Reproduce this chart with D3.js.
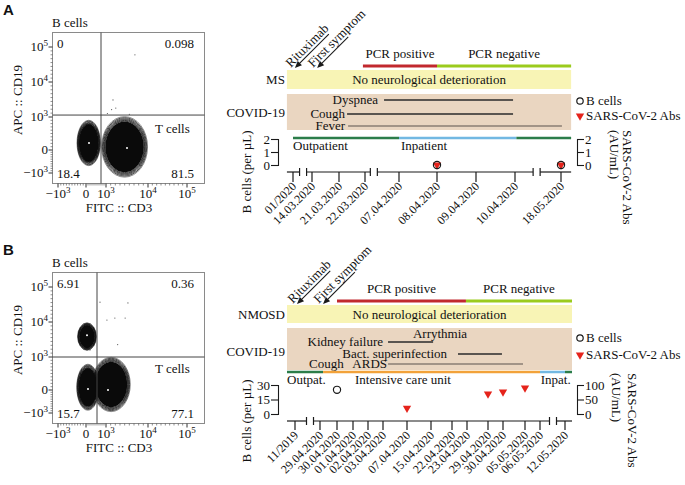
<!DOCTYPE html>
<html>
<head>
<meta charset="utf-8">
<script src="https://cdn.jsdelivr.net/npm/d3@7/dist/d3.min.js"></script>
<style>
html,body{margin:0;padding:0;background:#fff;}
svg{display:block;}
text{font-family:"Liberation Serif","Times New Roman",serif;fill:#111;font-size:13px;}
</style>
</head>
<body>
<svg id="chart" width="685" height="485"></svg>
<script>
// ================= DATA =================
// Flow cytometry (FITC :: CD3 vs APC :: CD19)
const flowTicks = [-1000, 0, 1000, 10000, 100000];
const flowTickBase = ["\u221210", "0", "10", "10", "10"];
const flowTickExp = ["3", "", "3", "4", "5"];
const quadrantA = ["0", "0.098", "18.4", "81.5"];
const quadrantB = ["6.91", "0.36", "15.7", "77.1"];
const gateA = [750, 1500];
const gateB = [550, 1000];
// populations: [cd3Low, cd3High, cd19Low, cd19High, cd3Peak, cd19Peak]
const populationsA = [
  [-320, 720, -680, 900, 150, 212],
  [780, 9900, -1180, 1100, 5500, 61]
];
const populationsB = [
  [-300, 520, 2700, 9800, 50, 6600],
  [-330, 650, -880, 780, 100, 30],
  [300, 6200, -940, 990, 1430, 0]
];
const eventsA = [[7200, 80000], [2500, 5400], [3100, 3300], [2200, 2900], [1300, 1900], [6000, 1700]];
const eventsB = [[700, 61000], [2900, 20000], [5100, 20000], [5700, 59000], [1200, 15000], [200, 2800], [3500, 4200]];

// Timeline A (MS)
const datesA = ["01/2020", "14.03.2020", "21.03.2020", "22.03.2020", "07.04.2020", "08.04.2020", "09.04.2020", "10.04.2020", "18.05.2020"];
const bCellsA = [[5, 0], [8, 0]];          // [date index, cells per µL]
const antibodiesA = [[5, 0], [8, 0]];      // [date index, AU/mL]
const pcrA = [["PCR positive", 2.92, 5], ["PCR negative", 5, 8.22]];
const careA = [["Outpatient", "out", 0, 4], ["Inpatient", "in", 4, 7.03], ["", "out", 7.03, 8.22]];
const symptomsA = [["Dyspnea", 3.56, 6.95], ["Cough", 2.31, 6.95], ["Fever", 2.35, 8.02]];
const eventsTimelineA = [["Rituximab", 0.1], ["First symptom", 1.19]];

// Timeline B (NMOSD)
const datesB = ["11/2019", "29.04.2020", "30.04.2020", "01.04.2020", "02.04.2020", "03.04.2020", "07.04.2020", "15.04.2020", "22.04.2020", "23.04.2020", "29.04.2020", "30.04.2020", "05.05.2020", "06.05.2020", "12.05.2020"];
const bCellsB = [[2, 25]];
const antibodiesB = [[6, 20], [10, 69], [11, 76], [12, 90]];
const pcrB = [["PCR positive", 2, 8.93], ["PCR negative", 8.93, 14.28]];
const careB = [["Outpat.", "out", -0.32, 1.18], ["Intensive care unit", "icu", 1.18, 13], ["Inpat.", "in", 13, 14], ["", "out", 14, 14.28]];
const symptomsB = [["Kidney failure", 5.21, 7.1], ["Bact. superinfection", 8.4, 10.93], ["ARDS", 5.21, 11.91]];
const eventsTimelineB = [["Rituximab", 0.08], ["First symptom", 1.18]];

// ================= STYLE =================
const careColor = {out: "#2b7d4a", in: "#72b8e2", icu: "#f2a23a"};
const pcrColor = ["#c1282e", "#9bcb1d"];
const svg = d3.select("#chart");

// ================= FLOW PANELS =================
function flowPanel(dy, letter, quad, gate, pops, events) {
  const g = svg.append("g").attr("transform", `translate(0,${dy})`);
  const x = d3.scaleLinear().domain(flowTicks).range([58, 86, 106, 148, 187]);
  const y = d3.scaleLinear().domain(flowTicks).range([173, 150, 117, 82, 47]);
  const L = 52.5, R = 204.5, T = 32.5, B = 183.5;

  g.append("text").attr("x", 3).attr("y", 15).text(letter)
    .style("font-family", "'Liberation Sans',Arial,sans-serif").style("font-weight", "bold").style("font-size", "15px");
  g.append("text").attr("x", 52).attr("y", 27).text("B cells");

  // populations (contour look)
  const ell = pops.map(p => {
    const x0 = x(p[0]), x1 = x(p[1]), y0 = y(p[3]), y1 = y(p[2]);
    return {cx: (x0 + x1) / 2, cy: (y0 + y1) / 2, rx: (x1 - x0) / 2, ry: (y1 - y0) / 2, px: x(p[4]), py: y(p[5])};
  });
  const rings = [1, 0.965, 0.93, 0.9, 0.875, 0.85];
  ell.forEach(e => rings.forEach((k, j) => {
    g.append("ellipse").attr("cx", e.cx).attr("cy", e.cy).attr("rx", e.rx * k).attr("ry", e.ry * k)
      .attr("fill", "none").attr("stroke", j === 0 ? "#666" : "#111").attr("stroke-width", 0.75);
  }));
  ell.forEach(e => {
    g.append("ellipse").attr("cx", e.cx).attr("cy", e.cy).attr("rx", e.rx * 0.84).attr("ry", e.ry * 0.84).attr("fill", "#0a0a0a");
  });
  ell.forEach(e => {
    g.append("circle").attr("cx", e.px).attr("cy", e.py).attr("r", 1).attr("fill", "#fff");
  });
  g.selectAll(".ev").data(events).join("circle")
    .attr("cx", d => x(d[0])).attr("cy", d => y(d[1])).attr("r", 0.6).attr("fill", "#555");

  // frame
  g.append("rect").attr("x", L).attr("y", T).attr("width", R - L).attr("height", B - T)
    .attr("fill", "none").attr("stroke", "#8a8a8a").attr("stroke-width", 1);
  // gates
  g.append("line").attr("x1", x(gate[0])).attr("x2", x(gate[0])).attr("y1", T).attr("y2", B).attr("stroke", "#444");
  g.append("line").attr("x1", L).attr("x2", R).attr("y1", y(gate[1])).attr("y2", y(gate[1])).attr("stroke", "#444");

  // ticks
  const minor = [];
  for (let k = 1; k < 10; k++) { minor.push(-k * 100, k * 100); }
  for (let k = 2; k < 10; k++) { minor.push(k * 1000, k * 10000); }
  minor.forEach(v => {
    g.append("line").attr("x1", x(v)).attr("x2", x(v)).attr("y1", B).attr("y2", B + 2).attr("stroke", "#444").attr("stroke-width", 0.6);
    g.append("line").attr("x1", L - 2).attr("x2", L).attr("y1", y(v)).attr("y2", y(v)).attr("stroke", "#444").attr("stroke-width", 0.6);
  });
  flowTicks.forEach((v, i) => {
    g.append("line").attr("x1", x(v)).attr("x2", x(v)).attr("y1", B).attr("y2", B + 4).attr("stroke", "#333");
    g.append("line").attr("x1", L - 4).attr("x2", L).attr("y1", y(v)).attr("y2", y(v)).attr("stroke", "#333");
    const tx = g.append("text").attr("x", x(v)).attr("y", 198).attr("text-anchor", "middle").style("font-size", "13px");
    tx.append("tspan").text(flowTickBase[i]);
    if (flowTickExp[i]) tx.append("tspan").attr("dy", -5).style("font-size", "9px").text(flowTickExp[i]);
    const ty = g.append("text").attr("x", 48).attr("y", y(v) + 4).attr("text-anchor", "end").style("font-size", "13px");
    ty.append("tspan").text(flowTickBase[i]);
    if (flowTickExp[i]) ty.append("tspan").attr("dy", -5).style("font-size", "9px").text(flowTickExp[i]);
  });
  g.append("text").attr("x", 119).attr("y", 212).attr("text-anchor", "middle").text("FITC :: CD3");
  g.append("text").attr("transform", "translate(22,100) rotate(-90)").attr("text-anchor", "middle").text("APC :: CD19");

  // quadrant labels
  g.append("text").attr("x", 57).attr("y", 48).text(quad[0]);
  g.append("text").attr("x", 194).attr("y", 48).attr("text-anchor", "end").text(quad[1]);
  g.append("text").attr("x", 57).attr("y", 178).text(quad[2]);
  g.append("text").attr("x", 194).attr("y", 178).attr("text-anchor", "end").text(quad[3]);
  g.append("text").attr("x", 155).attr("y", 133).text("T cells");
}

flowPanel(0, "A", quadrantA, gateA, populationsA, eventsA);
flowPanel(240, "B", quadrantB, gateB, populationsB, eventsB);

// ================= TIMELINES =================
function timeline(c) {
  const g = svg.append("g");
  const pos = [c.x0];
  c.gaps.forEach(d => pos.push(pos[pos.length - 1] + d));
  const x = d3.scaleLinear().domain(d3.range(c.dates.length)).range(pos);
  const [e0, e1] = c.extent;
  const ink = "#1a1a1a";

  // arrows
  c.arrows.forEach(([label, at], i) => {
    const ga = g.append("g").attr("transform", `translate(${x(at)},${c.arrowY}) rotate(-45)`);
    ga.append("line").attr("x1", 3).attr("x2", c.arrowLen[i]).attr("y1", 0).attr("y2", 0).attr("stroke", ink).attr("stroke-width", 1.1);
    ga.append("path").attr("d", "M0,0 L7,-3 L7,3 Z").attr("fill", ink);
    ga.append("text").attr("x", -3).attr("y", -3).text(label);
  });

  // PCR
  c.pcr.forEach(([label, a, b], i) => {
    g.append("line").attr("x1", x(a)).attr("x2", x(b)).attr("y1", c.pcrY).attr("y2", c.pcrY)
      .attr("stroke", pcrColor[i]).attr("stroke-width", 3);
    g.append("text").attr("x", (x(a) + x(b)) / 2).attr("y", c.pcrY - 8).attr("text-anchor", "middle").text(label);
  });

  // neurological bar
  g.append("rect").attr("x", x(e0)).attr("width", x(e1) - x(e0)).attr("y", c.barY[0]).attr("height", c.barY[1] - c.barY[0]).attr("fill", "#f8f4b5");
  g.append("text").attr("x", (x(e0) + x(e1)) / 2).attr("y", (c.barY[0] + c.barY[1]) / 2 + 4.5).attr("text-anchor", "middle").text("No neurological deterioration");
  g.append("text").attr("x", x(e0) - 2).attr("y", (c.barY[0] + c.barY[1]) / 2 + 4.5).attr("text-anchor", "end").text(c.disease);

  // COVID box
  g.append("rect").attr("x", x(e0)).attr("width", x(e1) - x(e0)).attr("y", c.tanY[0]).attr("height", c.tanY[1] - c.tanY[0]).attr("fill", "#ead6c1");
  g.append("text").attr("x", x(e0) - 2).attr("y", c.covidY).attr("text-anchor", "end").text("COVID-19");

  c.symptoms.forEach(([name, a, b], i) => {
    g.append("line").attr("x1", x(a)).attr("x2", x(b)).attr("y1", c.symRows[i]).attr("y2", c.symRows[i])
      .attr("stroke", c.symColors[i]).attr("stroke-width", 1.3);
    g.append("text").attr("x", x(a) - c.symGaps[i]).attr("y", c.symRows[i] + 4).attr("text-anchor", "end").text(name);
  });
  c.notes.forEach(([t, nx, ny, anchor]) => {
    g.append("text").attr("x", nx).attr("y", ny).attr("text-anchor", anchor).text(t);
  });

  // care status
  c.care.forEach(([label, kind, a, b]) => {
    g.append("line").attr("x1", x(a)).attr("x2", x(b)).attr("y1", c.statusY).attr("y2", c.statusY)
      .attr("stroke", careColor[kind]).attr("stroke-width", 2.5);
  });
  c.careLabels.forEach(([t, at]) => {
    g.append("text").attr("x", x(at)).attr("y", c.statusY + 12).text(t);
  });

  // value axes
  const yL = d3.scaleLinear().domain(c.leftDomain).range(c.valueY);
  const yR = d3.scaleLinear().domain(c.rightDomain).range(c.valueY);
  const axL = g.append("g").attr("transform", `translate(${c.leftX},0)`)
    .call(d3.axisLeft(yL).tickValues(c.leftTicks).tickSize(7).tickPadding(1).tickFormat(d3.format("d")));
  const axR = g.append("g").attr("transform", `translate(${c.rightX},0)`)
    .call(d3.axisRight(yR).tickValues(c.rightTicks).tickSize(7).tickPadding(1).tickFormat(d3.format("d")));
  [axL, axR].forEach(a => {
    a.selectAll("path,line").attr("stroke", ink).attr("stroke-width", 1.1);
    a.selectAll("text").style("font-family", "'Liberation Serif','Times New Roman',serif").style("font-size", "13px").attr("fill", ink);
  });

  // axis titles
  g.append("text").attr("transform", `translate(251,${c.timeY}) rotate(-90)`).attr("text-anchor", "middle").text("B cells (per \u00b5L)");
  g.append("text").attr("transform", `translate(${c.rightTitleX[0]},${c.rightTitleY}) rotate(90)`).text("SARS-CoV-2 Abs");
  g.append("text").attr("transform", `translate(${c.rightTitleX[1]},${c.rightTitleY}) rotate(90)`).text("(AU/mL)");

  // legend
  g.append("circle").attr("cx", 580).attr("cy", c.legendY[0]).attr("r", 3.2).attr("fill", "none").attr("stroke", ink).attr("stroke-width", 1.2);
  g.append("text").attr("x", 586).attr("y", c.legendY[0] + 4).text("B cells");
  g.append("path").attr("d", d3.symbol(d3.symbolTriangle, 30)()).attr("transform", `translate(580,${c.legendY[1]}) rotate(180)`).attr("fill", "#e5231b");
  g.append("text").attr("x", 586).attr("y", c.legendY[1] + 4).text("SARS-CoV-2 Abs");

  // time axis (broken)
  const h = 3.5;
  const cuts = [x(e0)];
  c.breaks.forEach(b => { cuts.push(x(b) - h, x(b) + h); });
  cuts.push(x(e1));
  for (let i = 0; i < cuts.length; i += 2) {
    g.append("line").attr("x1", cuts[i]).attr("x2", cuts[i + 1]).attr("y1", c.timeY).attr("y2", c.timeY).attr("stroke", ink).attr("stroke-width", 1.2);
  }
  c.breaks.forEach(b => {
    [x(b) - h, x(b) + h].forEach(bx => {
      g.append("line").attr("x1", bx).attr("x2", bx).attr("y1", c.timeY - 4).attr("y2", c.timeY + 4).attr("stroke", ink).attr("stroke-width", 1.2);
    });
  });
  c.dates.forEach((d, i) => {
    g.append("line").attr("x1", x(i)).attr("x2", x(i)).attr("y1", c.timeY).attr("y2", c.timeY + c.tickLen).attr("stroke", ink).attr("stroke-width", 1.2);
    g.append("text").attr("transform", `translate(${x(i) + 4},${c.timeY + 15}) rotate(-45)`)
      .attr("text-anchor", "end").style("font-size", "12px").text(d);
  });

  // data points
  g.selectAll(".ab").data(c.abs).join("path")
    .attr("d", d3.symbol(d3.symbolTriangle, 30)())
    .attr("transform", d => `translate(${x(d[0])},${yR(d[1])}) rotate(180)`)
    .attr("fill", "#e5231b");
  g.selectAll(".bc").data(c.bcells).join("circle")
    .attr("cx", d => x(d[0])).attr("cy", d => yL(d[1])).attr("r", 3.6)
    .attr("fill", "none").attr("stroke", ink).attr("stroke-width", 1.2);
}

timeline({
  dates: datesA, bcells: bCellsA, abs: antibodiesA, pcr: pcrA, care: careA, symptoms: symptomsA, arrows: eventsTimelineA,
  disease: "MS",
  x0: 293, gaps: [19, 27, 26, 34, 38, 39, 39, 46], extent: [-0.32, 8.22], breaks: [0.53, 3.26, 7.47],
  arrowY: 68, arrowLen: [48, 44], pcrY: 66, barY: [70, 89], tanY: [94, 130], covidY: 117,
  symRows: [100, 114, 126], symGaps: [6, 2, 3], symColors: ["#2a2a2a", "#2a2a2a", "#8a7e73"], notes: [],
  statusY: 138, careLabels: [["Outpatient", 0], ["Inpatient", 4.05]],
  leftDomain: [0, 2], rightDomain: [0, 2], leftTicks: [0, 1, 2], rightTicks: [0, 1, 2], valueY: [165, 139],
  leftX: 278, rightX: 577, timeY: 172, tickLen: 10,
  rightTitleX: [623, 610], rightTitleY: 130, legendY: [101, 116]
});

timeline({
  dates: datesB, bcells: bCellsB, abs: antibodiesB, pcr: pcrB, care: careB, symptoms: symptomsB, arrows: eventsTimelineB,
  disease: "NMOSD",
  x0: 295, gaps: [25, 17, 16, 15, 15, 24, 24, 21, 15, 21, 15, 22, 15, 25], extent: [-0.32, 14.28], breaks: [0.6, 13.52],
  arrowY: 304, arrowLen: [47, 45], pcrY: 301, barY: [305, 323], tanY: [328, 370], covidY: 356,
  symRows: [342, 354, 364], symGaps: [5, 11, 1], symColors: ["#2a2a2a", "#2a2a2a", "#8a7e73"],
  notes: [["Arrythmia", 440, 338, "middle"], ["Cough", 309, 368, "start"]],
  statusY: 372, careLabels: [["Outpat.", -0.32], ["Intensive care unit", 3.13], ["Inpat.", 13.03]],
  leftDomain: [0, 30], rightDomain: [0, 100], leftTicks: [0, 15, 30], rightTicks: [0, 50, 100], valueY: [414, 385],
  leftX: 278, rightX: 577, timeY: 421, tickLen: 9,
  rightTitleX: [628, 612], rightTitleY: 373, legendY: [338, 355]
});
</script>
</body>
</html>
